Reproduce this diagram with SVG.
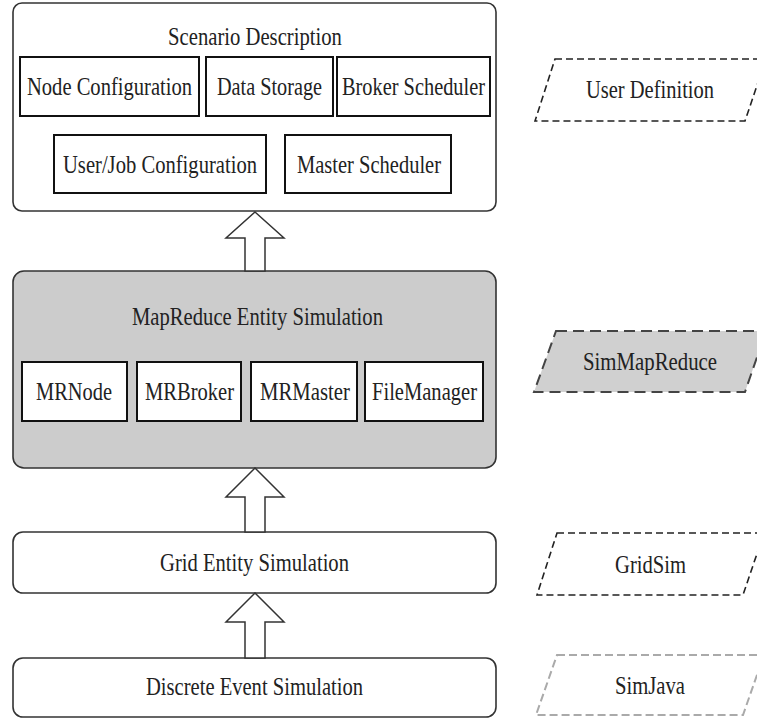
<svg xmlns="http://www.w3.org/2000/svg" width="757" height="719" viewBox="0 0 757 719">
  <style>
    .layer { fill: #ffffff; stroke: #333333; stroke-width: 1.6; }
    .layer.shaded { fill: #cccccc; }
    .item { fill: #ffffff; stroke: #111111; stroke-width: 2; }
    .arrow { fill: #ffffff; stroke: #333333; stroke-width: 1.5; stroke-linejoin: miter; }
    .tag { fill: none; stroke: #222222; stroke-width: 1.6; stroke-dasharray: 7 4; }
    .tag.shaded { fill: #d0d0d0; stroke: #444444; stroke-width: 2; stroke-dasharray: 11 6; }
    .tag.light { stroke: #aaaaaa; stroke-width: 2; stroke-dasharray: 8 4; }
    text { font-family: "Liberation Serif", "DejaVu Serif", serif; font-size: 26px; fill: #222222; text-anchor: middle; }
  </style>

  <!-- user-level scenario description -->
  <g id="scenario">
    <rect class="layer" x="13" y="3" width="483" height="208" rx="9"/>
    <text font-family="Liberation Serif, serif" transform="translate(255,45) scale(0.79,1)" textLength="220" lengthAdjust="spacingAndGlyphs">Scenario Description</text>
    <g id="node-config">
      <rect class="item" x="20" y="57" width="179" height="59"/>
      <text font-family="Liberation Serif, serif" transform="translate(109.5,95) scale(0.79,1)" textLength="209" lengthAdjust="spacingAndGlyphs">Node Configuration</text>
    </g>
    <g id="data-storage">
      <rect class="item" x="206" y="57" width="127" height="59"/>
      <text font-family="Liberation Serif, serif" transform="translate(269.5,95) scale(0.79,1)" textLength="133" lengthAdjust="spacingAndGlyphs">Data Storage</text>
    </g>
    <g id="broker-scheduler">
      <rect class="item" x="337" y="57" width="153" height="59"/>
      <text font-family="Liberation Serif, serif" transform="translate(413.5,95) scale(0.79,1)" textLength="181" lengthAdjust="spacingAndGlyphs">Broker Scheduler</text>
    </g>
    <g id="user-job-config">
      <rect class="item" x="54" y="135" width="212" height="58"/>
      <text font-family="Liberation Serif, serif" transform="translate(160,173) scale(0.79,1)" textLength="245.6" lengthAdjust="spacingAndGlyphs">User/Job Configuration</text>
    </g>
    <g id="master-scheduler">
      <rect class="item" x="285" y="135" width="166" height="58"/>
      <text font-family="Liberation Serif, serif" transform="translate(369,173) scale(0.79,1)" textLength="182.3" lengthAdjust="spacingAndGlyphs">Master Scheduler</text>
    </g>
  </g>

  <!-- MapReduce entity layer -->
  <g id="mapreduce">
    <rect class="layer shaded" x="13" y="271" width="483" height="197" rx="11"/>
    <text font-family="Liberation Serif, serif" transform="translate(257.5,325) scale(0.79,1)" textLength="317.7" lengthAdjust="spacingAndGlyphs">MapReduce Entity Simulation</text>
    <g id="mrnode">
      <rect class="item" x="22" y="362" width="105" height="59"/>
      <text font-family="Liberation Serif, serif" transform="translate(74,400) scale(0.79,1)" textLength="96.2" lengthAdjust="spacingAndGlyphs">MRNode</text>
    </g>
    <g id="mrbroker">
      <rect class="item" x="137" y="362" width="104" height="59"/>
      <text font-family="Liberation Serif, serif" transform="translate(189.5,400) scale(0.79,1)" textLength="112.7" lengthAdjust="spacingAndGlyphs">MRBroker</text>
    </g>
    <g id="mrmaster">
      <rect class="item" x="251" y="362" width="106" height="59"/>
      <text font-family="Liberation Serif, serif" transform="translate(305,400) scale(0.79,1)" textLength="113.9" lengthAdjust="spacingAndGlyphs">MRMaster</text>
    </g>
    <g id="filemanager">
      <rect class="item" x="365" y="362" width="118" height="59"/>
      <text font-family="Liberation Serif, serif" transform="translate(424.5,400) scale(0.79,1)" textLength="132.9" lengthAdjust="spacingAndGlyphs">FileManager</text>
    </g>
  </g>

  <!-- grid entity layer -->
  <g id="grid">
    <rect class="layer" x="13" y="532" width="483" height="61" rx="10"/>
    <text font-family="Liberation Serif, serif" transform="translate(254.5,571) scale(0.79,1)" textLength="239.2" lengthAdjust="spacingAndGlyphs">Grid Entity Simulation</text>
  </g>

  <!-- discrete event layer -->
  <g id="discrete">
    <rect class="layer" x="13" y="658" width="483" height="59" rx="10"/>
    <text font-family="Liberation Serif, serif" transform="translate(254.5,695) scale(0.79,1)" textLength="274.7" lengthAdjust="spacingAndGlyphs">Discrete Event Simulation</text>
  </g>

  <!-- hollow block arrows between layers -->
  <g id="connectors">
    <polygon class="arrow" points="255,212 284,238 265,238 265,271 245,271 245,238 226,238"/>
    <polygon class="arrow" points="255,468 284,497 265,497 265,532 245,532 245,497 226,497"/>
    <polygon class="arrow" points="255,593 284,622 265,622 265,658 245,658 245,622 226,622"/>
  </g>

  <!-- framework labels on the right -->
  <g id="user-definition">
    <polygon class="tag" points="555,59 766,59 745,121 535,121"/>
    <text font-family="Liberation Serif, serif" transform="translate(650,98) scale(0.79,1)" textLength="162" lengthAdjust="spacingAndGlyphs">User Definition</text>
  </g>
  <g id="simmapreduce">
    <polygon class="tag shaded" points="556,331 766,331 745,392 534,392"/>
    <text font-family="Liberation Serif, serif" transform="translate(650,370) scale(0.79,1)" textLength="169.6" lengthAdjust="spacingAndGlyphs">SimMapReduce</text>
  </g>
  <g id="gridsim">
    <polygon class="tag" points="557,533 764,533 743,595 537,595"/>
    <text font-family="Liberation Serif, serif" transform="translate(650.5,573) scale(0.79,1)" textLength="89.9" lengthAdjust="spacingAndGlyphs">GridSim</text>
  </g>
  <g id="simjava">
    <polygon class="tag light" points="557,655 764,655 743,715 536,715"/>
    <text font-family="Liberation Serif, serif" transform="translate(650,694) scale(0.79,1)" textLength="88.6" lengthAdjust="spacingAndGlyphs">SimJava</text>
  </g>
</svg>
